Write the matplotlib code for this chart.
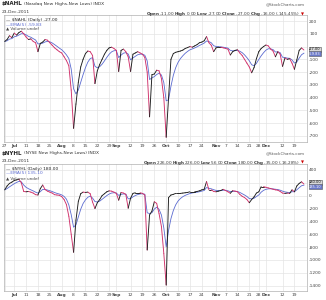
import numpy as np
import pandas as pd
import matplotlib
matplotlib.use("Agg")
import matplotlib.pyplot as plt
from matplotlib.collections import LineCollection

# торговые дни 27-Jun-2011 .. 23-Dec-2011
holidays = ["2011-07-04", "2011-09-05", "2011-11-24"]
dates = pd.bdate_range("2011-06-27", "2011-12-23").drop(pd.to_datetime(holidays))

# $NAHL - Nasdaq New Highs-New Lows (daily close)
nahl = [40, 55, 85, 70, 105, 90, 110, 120, 100, 75,
        55, 60, 40, 30, -40, 25, 35, 55, 50, 30,
        10, -10, -25, -40, -50, -80, -110, -150, -340, -640,
        -450, -280, -160, -100, -55, -35, -40, -70, -290, -190,
        -140, -100, -60, -30, -10, -5, -15, -30, -195, -30,
        -20, -40, -80, -195, -60, -50, -40, -50, -60, -85,
        -200, -550, -220, -215, -185, -190, -250, -400, -710, -400,
        -100, -55, -45, -40, -35, -28, -15, -8, 0, -5,
        5, 15, 30, 35, 45, 78, 30, 10, -40, -10,
        -5, -5, -10, -15, -20, -66, -40, -30, -25, -50,
        -70, -100, -130, -160, -205, -165, -95, -40, -15, 0,
        12, 5, -20, -35, -80, -40, -60, -155, -90, -100,
        -95, -130, -178, -105, -30, -11, -27]

# $NYHL - NYSE New Highs-New Lows (daily close)
nyhl = [90, 150, 190, 210, 235, 245, 255, 200, 65, 60,
        65, 55, 40, 15, 10, 110, 165, 95, 70, 55,
        40, 15, 10, 5, -15, -60, -140, -320, -600, -880,
        -380, -90, 30, 55, 50, 55, 30, -100, -200, -110,
        -60, 0, 30, 60, 75, 70, 55, 35, -70, 50,
        40, 20, -195, -40, 35, 45, 45, 45, 35, 10,
        -845, -300, -240, -95, -120, -280, -480, -900, -1390, -30,
        10, 20, 35, 35, 35, 40, 45, 50, 60, 60,
        60, 65, 75, 90, 100, 218, 90, 90, 65, 60,
        70, 80, 98, 80, 60, 37, 77, 70, 60, 20,
        -10, -30, -60, -110, -60, -20, 40, 60, 140, 140,
        130, 120, 110, 100, 90, 85, 65, 40, 35, 40,
        35, 90, 60, 150, 190, 215, 180]

tick_dates = ["2011-06-27", "2011-07-01", "2011-07-11", "2011-07-18", "2011-07-25",
              "2011-08-01", "2011-08-08", "2011-08-15", "2011-08-22", "2011-08-29",
              "2011-09-01", "2011-09-12", "2011-09-19", "2011-09-26", "2011-10-03",
              "2011-10-10", "2011-10-17", "2011-10-24", "2011-11-01", "2011-11-07",
              "2011-11-14", "2011-11-21", "2011-11-28", "2011-12-01", "2011-12-12",
              "2011-12-19"]
tick_labels = ["27", "Jul", "11", "18", "25", "Aug", "8", "15", "22", "29",
               "Sep", "12", "19", "26", "Oct", "10", "17", "24", "Nov", "7",
               "14", "21", "28", "Dec", "12", "19"]
months = ["Jul", "Aug", "Sep", "Oct", "Nov", "Dec"]

nahl_yticks = [200, 100, 0, -100, -200, -300, -400, -500, -600, -700]
nyhl_yticks = [400, 200, 0, -200, -400, -600, -800, -1000, -1200, -1400]

W, H = 326, 300
RED = "#d0306a"
BLUE = "#5a6ad0"
DARK = "#1c1c1c"

fig = plt.figure(figsize=(W / 100, H / 100), dpi=100)


def rect(x0, y0, x1, y1):
    return [x0 / W, 1 - y1 / H, (x1 - x0) / W, (y1 - y0) / H]


def fy(y):
    return 1 - y / H


def draw_panel(box, values, ylim, yticks, show_first_tick, hidden_ytick):
    ax = fig.add_axes(rect(*box))
    s = pd.Series(values, dtype=float)
    ema = s.ewm(span=5, adjust=False).mean()
    idx = np.arange(len(s))

    # EMA(5)
    ax.plot(idx, ema, color=BLUE, lw=0.6, zorder=2)

    # линия закрытия: чёрная на росте, красная на падении
    pts = np.column_stack([idx, s.values])
    segs = np.stack([pts[:-1], pts[1:]], axis=1)
    cols = [RED if b < a else DARK for a, b in zip(s.values[:-1], s.values[1:])]
    lc = LineCollection(segs, colors=cols, linewidths=0.65, zorder=3,
                        capstyle="round", joinstyle="round")
    ax.add_collection(lc)

    ax.set_xlim(-0.3, 127.3)
    ax.set_ylim(*ylim)

    pos = dates.get_indexer(pd.to_datetime(tick_dates))
    ax.set_xticks(pos)
    labels = list(tick_labels)
    if not show_first_tick:
        labels[0] = ""
    ax.set_xticklabels(labels)
    for t in ax.get_xticklabels():
        if t.get_text() in months:
            t.set_fontweight("bold")
    # метка под боксами значений не видна
    ax.set_yticks(yticks)
    ax.set_yticklabels(["" if v == hidden_ytick else str(v) for v in yticks])
    ax.yaxis.tick_right()
    ax.tick_params(axis="both", length=0, labelsize=3.2, colors="#444444", pad=1.5)
    ax.grid(True, color="#e4e4e4", lw=0.5)
    ax.set_axisbelow(True)
    for sp in ax.spines.values():
        sp.set_color("#b0b0b0")
        sp.set_linewidth(0.5)
    return ax, s, ema


def value_boxes(ax, close_val, ema_val, close_txt, ema_txt):
    mid = (close_val + ema_val) / 2
    for txt, face, fg, dy in [(close_txt, "#d8d8d8", "#111111", 1.6),
                              (ema_txt, "#6a78c8", "white", -1.6)]:
        ax.annotate(txt, xy=(1.0, mid), xycoords=("axes fraction", "data"),
                    xytext=(1.5, dy), textcoords="offset points",
                    fontsize=2.6, color=fg, va="center", ha="left",
                    bbox=dict(boxstyle="square,pad=0.1", fc=face, ec="#555555", lw=0.4),
                    zorder=10, annotation_clip=False)


def header(y_top, sym, name, ohlc, legend1, legend2):
    fig.text(2 / W, fy(y_top), sym, fontsize=4.0, fontweight="bold",
             color="#222222", va="center", ha="left")
    fig.text(24 / W, fy(y_top), name, fontsize=3.2, color="#333333",
             va="center", ha="left")
    fig.text(2 / W, fy(y_top + 8), "23-Dec-2011", fontsize=3.2, color="#333333",
             va="center", ha="left")
    fig.text(305 / W, fy(y_top), "@StockCharts.com", fontsize=3.0, color="#555555",
             va="center", ha="right")
    fig.text(300 / W, fy(y_top + 10), ohlc, fontsize=3.0, color="#333333",
             va="center", ha="right")
    fig.text(301 / W, fy(y_top + 10), "\u25bc", fontsize=2.8, color="#cc0000",
             va="center", ha="left")
    # легенда внутри графика
    fig.text(6 / W, fy(y_top + 16), "\u2014 " + legend1, fontsize=3.2,
             color="#222222", va="center", ha="left")
    fig.text(6 / W, fy(y_top + 20.5), "\u2014" + legend2, fontsize=3.2,
             color=BLUE, va="center", ha="left")
    fig.text(6 / W, fy(y_top + 25), "\u25b2 Volume undef", fontsize=3.0,
             color="#444444", va="center", ha="left")


# ---- верхняя панель: $NAHL ----
ax1, s1, e1 = draw_panel((4, 15, 307, 142), nahl, (-747, 247), nahl_yticks, True, 0)
value_boxes(ax1, s1.iloc[-1], e1.iloc[-1], "-27.00", "-59.83")
header(4, "$NAHL", "(Nasdaq New Highs-New Lows) INDX",
       r"$\mathbf{Open}$ -11.00 $\mathbf{High}$ 0.00 $\mathbf{Low}$ -27.00 "
       r"$\mathbf{Close}$ -27.00 $\mathbf{Chg}$ -16.00 (-145.45%)",
       "$NAHL (Daily) -27.00", "EMA(5) -59.83")

# ---- нижняя панель: $NYHL ----
ax2, s2, e2 = draw_panel((4, 164, 307, 291), nyhl, (-1482, 492), nyhl_yticks, False, 200)
value_boxes(ax2, s2.iloc[-1], e2.iloc[-1], "180.00", "135.10")
header(153, "$NYHL", "(NYSE New Highs-New Lows) INDX",
       r"$\mathbf{Open}$ 226.00 $\mathbf{High}$ 226.00 $\mathbf{Low}$ 56.00 "
       r"$\mathbf{Close}$ 180.00 $\mathbf{Chg}$ -35.00 (-16.28%)",
       "$NYHL (Daily) 180.00", "EMA(5) 135.10")

fig.savefig("out.png", dpi=100, facecolor="white")
